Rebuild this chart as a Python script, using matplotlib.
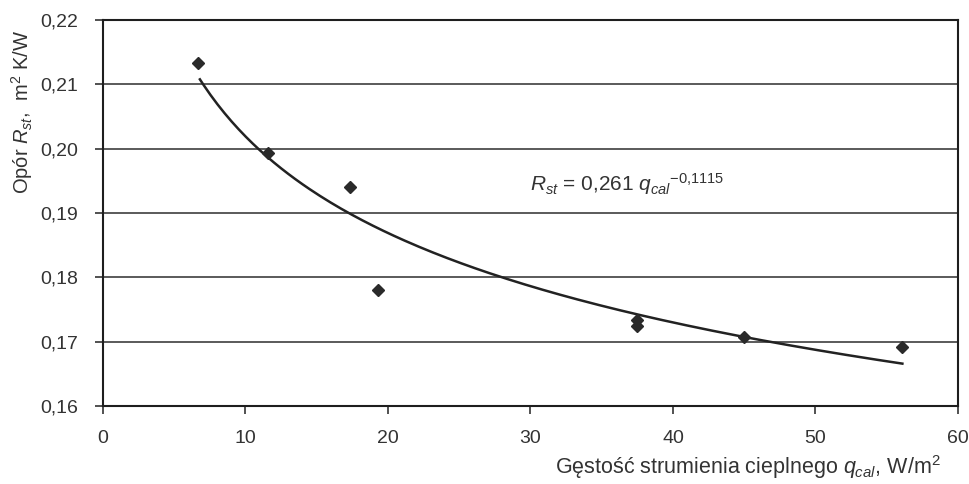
import matplotlib
matplotlib.use('Agg')
import matplotlib.pyplot as plt
from matplotlib.ticker import FuncFormatter
import numpy as np

plt.rcParams['font.family'] = ['Liberation Sans', 'DejaVu Sans']
plt.rcParams['mathtext.fontset'] = 'custom'
plt.rcParams['mathtext.rm'] = 'Liberation Sans'
plt.rcParams['mathtext.it'] = 'Liberation Sans:italic'

# measured points
q_cal = [6.7, 11.6, 17.3, 19.3, 37.5, 37.5, 45.0, 56.1]
r_st = [0.2133, 0.1994, 0.1940, 0.1780, 0.1734, 0.1724, 0.1708, 0.1691]

# power trend line from the chart: R = a * q^b
coef_a = 0.261
coef_b = -0.1115
trend_q = np.linspace(min(q_cal) + 0.1, max(q_cal), 200)
trend_r = coef_a * trend_q ** coef_b

x_ticks = [0, 10, 20, 30, 40, 50, 60]
y_ticks = [0.16, 0.17, 0.18, 0.19, 0.20, 0.21, 0.22]

fig = plt.figure(figsize=(9.69, 4.84), dpi=100)
ax = fig.add_axes([0.1063, 0.1612, 0.8823, 0.7975])

# horizontal grid lines
for yv in y_ticks:
    ax.axhline(yv, color='#2e2e2e', lw=1.1, zorder=1)

ax.plot(trend_q, trend_r, color='#222222', lw=1.8, zorder=2)
ax.plot(q_cal, r_st, linestyle='none', marker='D', markersize=6.5,
        color='#2a2a2a', zorder=3)

ax.set_xlim(0, 60)
ax.set_ylim(0.16, 0.22)
ax.set_xticks(x_ticks)
ax.set_yticks(y_ticks)
ax.xaxis.set_major_formatter(FuncFormatter(lambda v, p: '%d' % v))
ax.yaxis.set_major_formatter(FuncFormatter(lambda v, p: ('%.2f' % v).replace('.', ',')))
ax.tick_params(direction='out', length=6, width=1.1, color='#222222',
               labelsize=14, labelcolor='#333333')
ax.tick_params(axis='y', pad=12)
ax.tick_params(axis='x', pad=11)

for s in ax.spines.values():
    s.set_color('#1e1e1e')
    s.set_linewidth(1.5)

ax.text(30.0, 0.1945, r'$R_{st}$ = 0,261 $q_{cal}$$^{-0{,}1115}$',
        fontsize=15, color='#333333', ha='left', va='center')

fig.text(0.023, 0.768, r'Opór $R_{st}$,  m$^2$ K/W', rotation=90,
         ha='center', va='center', fontsize=14.5, color='#333333')
fig.text(0.772, 0.035, r'Gęstość strumienia cieplnego $q_{cal}$, W/m$^2$',
         ha='center', va='center', fontsize=15.5, color='#333333')

fig.savefig('out.png', dpi=100, facecolor='white')
